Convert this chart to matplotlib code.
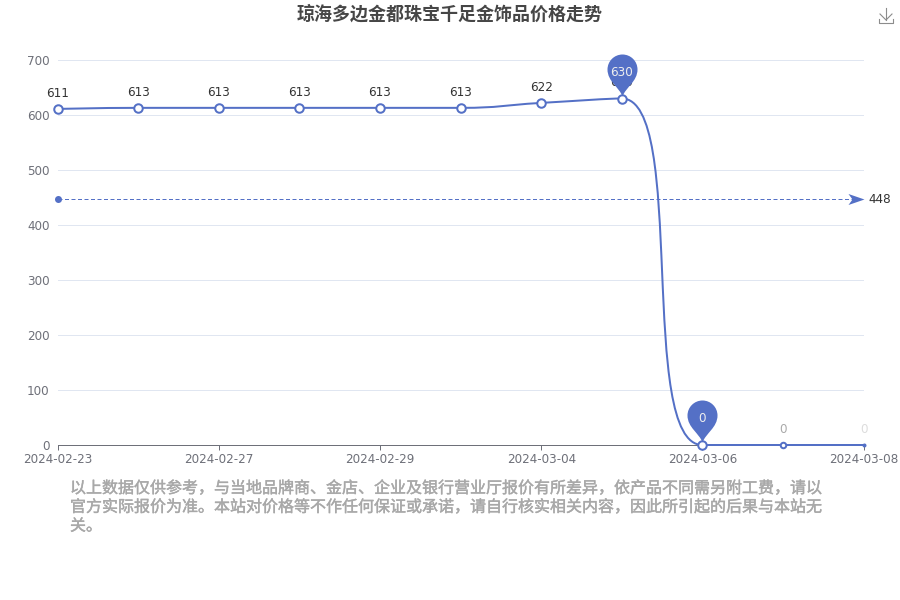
import matplotlib
matplotlib.use("Agg")
from matplotlib import pyplot as plt
from matplotlib.lines import Line2D
from matplotlib.path import Path
from matplotlib.patches import PathPatch
from matplotlib import patheffects
import numpy as np

dates = ['2024-02-23', '2024-02-26', '2024-02-27', '2024-02-28', '2024-02-29', '2024-03-01',
         '2024-03-04', '2024-03-05', '2024-03-06', '2024-03-07', '2024-03-08']
prices = [611, 613, 613, 613, 613, 613, 622, 630, 0, 0, 0]
mean_price = 448
pin_points = [7, 8]
y_ticks = [0, 100, 200, 300, 400, 500, 600, 700]

title = '琼海多边金都珠宝千足金饰品价格走势'
note = ('以上数据仅供参考，与当地品牌商、金店、企业及银行营业厅报价有所差异，依产品不同需另附工费，请以\n'
        '官方实际报价为准。本站对价格等不作任何保证或承诺，请自行核实相关内容，因此所引起的后果与本站无\n'
        '关。')

BLUE = '#5470c6'
GREY = '#6e7079'
CJK = ['Noto Sans CJK SC', 'DejaVu Sans']
PX = 0.72  # points per pixel at dpi 100


def smooth_path(pts, smooth=0.5):
    # same control point rule as an echarts smooth line, works in screen units
    n = len(pts)
    cp_in = [pts[0]] * n
    cp_out = [pts[0]] * n
    cp_in[-1] = pts[-1]
    cp_out[-1] = pts[-1]
    for i in range(1, n - 1):
        p0, p, p1 = pts[i - 1], pts[i], pts[i + 1]
        v = p1 - p0
        d0 = np.hypot(*(p - p0))
        d1 = np.hypot(*(p1 - p))
        ratio = d1 / (d0 + d1)
        nxt = p + v * smooth * ratio
        nxt = np.clip(nxt, np.minimum(p, p1), np.maximum(p, p1))
        v = nxt - p
        cp = p - v * d0 / d1
        cp = np.clip(cp, np.minimum(p, p0), np.maximum(p, p0))
        v = p - cp
        cp_in[i] = cp
        cp_out[i] = p + v * d1 / d0
    verts = [pts[0]]
    codes = [Path.MOVETO]
    for i in range(n - 1):
        verts += [cp_out[i], cp_in[i + 1], pts[i + 1]]
        codes += [Path.CURVE4] * 3
    return verts, codes


# pin marker, tip at the origin
pin = Path([(0, 3), (-3, 12), (-15, 18), (-15, 30), (-15, 38.3), (-8.3, 45), (0, 45),
            (8.3, 45), (15, 38.3), (15, 30), (15, 18), (3, 12), (0, 3), (0, 3)],
           [Path.MOVETO] + [Path.CURVE4] * 12 + [Path.CLOSEPOLY])
# arrow head of the mean line, tip at the origin
arrow = Path([(0, 0), (-16, 5.5), (-12, 0), (-16, -5.5), (0, 0)],
             [Path.MOVETO, Path.LINETO, Path.LINETO, Path.LINETO, Path.CLOSEPOLY])

fig = plt.figure(figsize=(9, 6), dpi=100, facecolor='white')
ax = fig.add_axes([57.6 / 900, 1 - 445 / 600, 806 / 900, 385 / 600])

x = list(range(len(dates)))
ax.set_xlim(0, len(dates) - 1)
ax.set_ylim(0, 700)
ax.set_yticks(y_ticks)
ax.set_xticks(x[::2])
ax.set_xticklabels(dates[::2])
ax.tick_params(axis='y', length=0, labelsize=12 * PX, labelcolor=GREY, pad=8 * PX)
ax.tick_params(axis='x', length=5 * PX, width=0.72, color=GREY, labelsize=12 * PX, labelcolor=GREY, pad=3 * PX)
ax.grid(axis='y', color='#e0e6f1', lw=0.72)
ax.set_axisbelow(True)
for s in ('top', 'left', 'right'):
    ax.spines[s].set_visible(False)
ax.spines['bottom'].set_color(GREY)
ax.spines['bottom'].set_linewidth(0.72)

# mean line
ax.plot([0, x[-1]], [mean_price, mean_price], color=BLUE, lw=0.72, ls=(0, (4, 2.5)), zorder=2)
ax.plot([0], [mean_price], 'o', color=BLUE, ms=7 * PX, mew=0, clip_on=False, zorder=2)
ax.plot([x[-1]], [mean_price], marker=arrow, color=BLUE, ms=32 * PX, mew=0, clip_on=False, zorder=2)
ax.annotate(str(mean_price), (x[-1], mean_price), xytext=(5 * PX, -1 * PX), textcoords='offset points',
            ha='left', va='center', fontsize=12 * PX, color='#333333', annotation_clip=False)

# price line, smoothed in screen space then brought back to data space
screen = list(ax.transData.transform(np.column_stack([x, prices])))
verts, codes = smooth_path(screen)
data_verts = ax.transData.inverted().transform(np.array(verts))
ax.add_patch(PathPatch(Path(data_verts, codes), fc='none', ec=BLUE, lw=2 * PX, clip_on=False, zorder=3))

# the last points are still fading in on the reference
sizes = [8.5] * 9 + [5.5, 2]
label_colors = ['#333333'] * 9 + ['#aaaaaa', '#dddddd']
for xi, p, sz, c in zip(x, prices, sizes, label_colors):
    ax.plot([xi], [p], 'o', ms=sz * PX, mfc='white', mec=BLUE, mew=2 * PX, clip_on=False, zorder=4)
    ax.annotate(str(p), (xi, p), xytext=(0, 9 * PX), textcoords='offset points', ha='center', va='bottom',
                fontsize=12 * PX, color=c, annotation_clip=False, zorder=5)

# max / min pins
for i in pin_points:
    ax.plot([x[i]], [prices[i]], marker=pin, color=BLUE, ms=90 * PX, mew=0, clip_on=False, zorder=6)
    ax.annotate(str(prices[i]), (x[i], prices[i]), xytext=(0, 26 * PX), textcoords='offset points',
                ha='center', va='center', fontsize=12 * PX, color='#eeeeee', annotation_clip=False, zorder=7)

fig.text(450 / 900, 1 - 14 / 600, title, family=CJK, fontsize=18 * PX, fontweight='bold',
         color='#464646', ha='center', va='center')
fig.text(70 / 900, 1 - 480 / 600, note, family=CJK, fontsize=16 * PX, color='#a8a8a8',
         ha='left', va='top', linespacing=1.14,
         path_effects=[patheffects.withStroke(linewidth=0.3, foreground='#a8a8a8')])

# download icon
icon = '#8c8c8c'
for xs, ys in [([886, 886], [8, 20]), ([880, 886, 892], [14, 20, 14]), ([879, 879, 893, 893], [19, 23, 23, 19])]:
    fig.add_artist(Line2D([v / 900 for v in xs], [1 - v / 600 for v in ys], color=icon, lw=0.8))

fig.savefig('out.png', dpi=100)
